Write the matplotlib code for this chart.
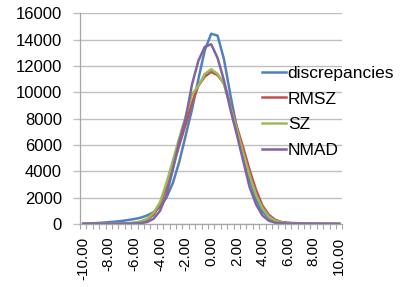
import numpy as np
import matplotlib
matplotlib.use("Agg")
import matplotlib.pyplot as plt

plt.rcParams["font.family"] = ["Liberation Sans", "DejaVu Sans"]

# category values (bins of width 0.5)
x_values = [-10.0, -9.5, -9.0, -8.5, -8.0, -7.5, -7.0, -6.5, -6.0, -5.5,
            -5.0, -4.5, -4.0, -3.5, -3.0, -2.5, -2.0, -1.5, -1.0, -0.5,
            0.0, 0.5, 1.0, 1.5, 2.0, 2.5, 3.0, 3.5, 4.0, 4.5,
            5.0, 5.5, 6.0, 6.5, 7.0, 7.5, 8.0, 8.5, 9.0, 9.5, 10.0]

discrepancies = [30, 50, 70, 100, 140, 180, 230, 300, 380, 480,
                 650, 900, 1300, 2000, 3100, 4700, 6700, 8700, 11000, 13200,
                 14450, 14300, 12500, 9800, 7300, 5200, 3400, 1900, 950, 450,
                 220, 130, 90, 70, 55, 45, 35, 30, 25, 20, 15]
rmsz = [5, 5, 8, 10, 15, 20, 30, 45, 80, 160,
        330, 700, 1500, 2750, 4300, 5970, 7550, 9200, 10500, 11200,
        11550, 11300, 10700, 9000, 7400, 5800, 4100, 2600, 1400, 700,
        320, 150, 80, 40, 25, 15, 10, 8, 5, 5, 3]
sz = [5, 8, 10, 15, 20, 30, 40, 60, 100, 200,
      400, 850, 1650, 3100, 4800, 6500, 8150, 9850, 10500, 11400,
      11750, 11400, 10600, 8900, 7200, 5400, 3700, 2200, 1200, 550,
      250, 120, 60, 30, 20, 15, 10, 8, 5, 5, 3]
nmad = [5, 5, 8, 10, 12, 15, 20, 30, 40, 70,
        150, 400, 1000, 2200, 4100, 6250, 8000, 10600, 12400, 13450,
        13650, 12600, 10900, 8700, 6800, 4800, 2800, 1500, 650, 250,
        100, 50, 30, 20, 15, 10, 8, 5, 5, 3, 2]

series_names = ["discrepancies", "RMSZ", "SZ", "NMAD"]
series_colors = ["#4F81BD", "#C0504D", "#9BBB59", "#8064A2"]

label_values = [-10, -8, -6, -4, -2, 0, 2, 4, 6, 8, 10]
y_ticks = [0, 2000, 4000, 6000, 8000, 10000, 12000, 14000, 16000]

fig = plt.figure(figsize=(4.0, 2.87), dpi=100)
ax = fig.add_axes([0.2, 0.2195, 0.656, 0.7342])

for vals, name, col in zip([discrepancies, rmsz, sz, nmad], series_names, series_colors):
    ax.plot(x_values, vals, color=col, lw=1.8, label=name, solid_joinstyle="round")

ax.set_xlim(-10.25, 10.25)
ax.set_ylim(0, 16000)
ax.set_yticks(y_ticks)
ax.set_yticklabels([str(v) for v in y_ticks], fontsize=12)
ax.yaxis.grid(True, color="#BFBFBF", lw=1.0)
ax.set_axisbelow(True)

ax.set_xticks(label_values)
ax.set_xticklabels(["%.2f" % v for v in label_values], rotation=90, fontsize=11)
ax.set_xticks(np.array(x_values + [10.5]) - 0.25, minor=True)
ax.tick_params(axis="x", which="major", length=0, pad=9)
ax.tick_params(axis="x", which="minor", length=3.6, color="#A6A6A6", width=0.8)
ax.tick_params(axis="y", length=5, color="#BFBFBF", width=1.0, pad=8)

for side in ["top", "right"]:
    ax.spines[side].set_visible(False)
for side in ["left", "bottom"]:
    ax.spines[side].set_color("#A6A6A6")
    ax.spines[side].set_linewidth(0.9)

fig.legend(loc="upper left", bbox_to_anchor=(0.655, 0.772), frameon=False,
           fontsize=12.5, handlelength=1.4, handletextpad=0.08,
           labelspacing=0.62, borderpad=0, borderaxespad=0)

fig.savefig("out.png", dpi=100)
